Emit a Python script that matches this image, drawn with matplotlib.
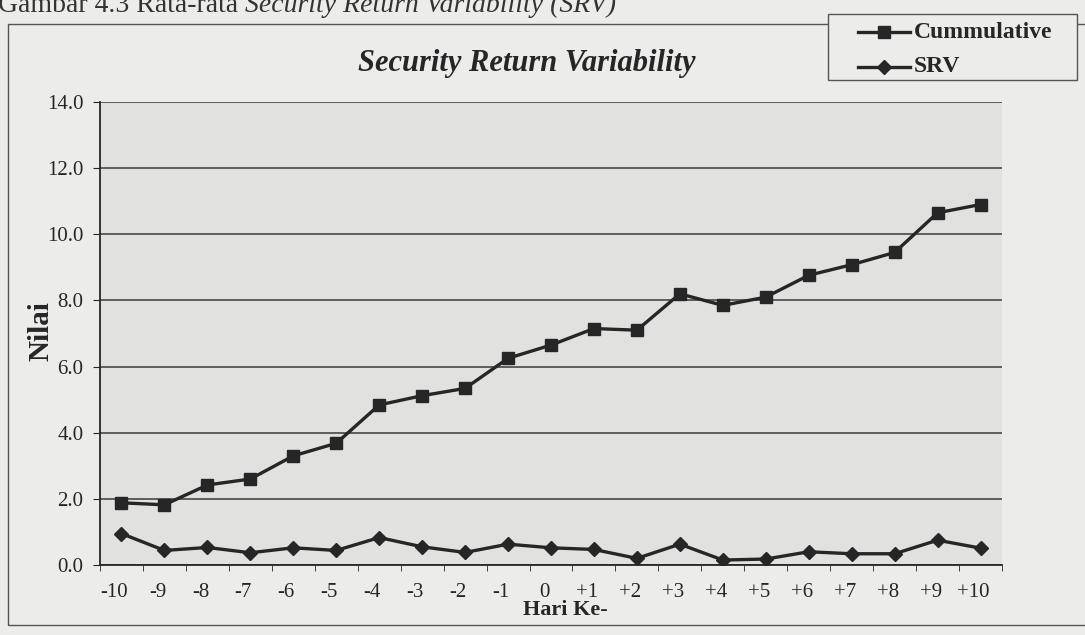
import matplotlib.pyplot as plt
from matplotlib.lines import Line2D
from matplotlib.patches import Rectangle
from matplotlib.transforms import ScaledTranslation

hari = ['-10', '-9', '-8', '-7', '-6', '-5', '-4', '-3', '-2', '-1', '0',
        '+1', '+2', '+3', '+4', '+5', '+6', '+7', '+8', '+9', '+10']
cumulative = [1.88, 1.82, 2.42, 2.60, 3.30, 3.68, 4.84, 5.12, 5.34, 6.25, 6.65,
              7.15, 7.10, 8.20, 7.85, 8.10, 8.76, 9.08, 9.45, 10.65, 10.90]
srv = [0.95, 0.44, 0.53, 0.37, 0.52, 0.44, 0.83, 0.55, 0.38, 0.63, 0.52,
       0.47, 0.20, 0.63, 0.15, 0.18, 0.40, 0.34, 0.34, 0.75, 0.51]
yticks = [0, 2, 4, 6, 8, 10, 12, 14]
series_names = ['Cummulative', 'SRV']

plt.rcParams['font.family'] = ['Liberation Serif', 'DejaVu Serif']
ink = '#262626'
bg = '#ececea'

fig = plt.figure(figsize=(10.85, 6.35), dpi=100, facecolor=bg)
W, H = 1085, 635

def fx(px):
    return px / W

def fy(py):
    return 1 - py / H

# outer chart frame of the scanned page
fig.add_artist(Rectangle((fx(8), fy(625)), 1.2, (625 - 24) / H,
                         transform=fig.transFigure, fill=False,
                         edgecolor='#555555', lw=1.0))

ax = fig.add_axes([fx(100), fy(565), fx(902), (565 - 102) / H])
ax.set_facecolor('#e1e1df')

x = list(range(len(hari)))
ax.plot(x, cumulative, color=ink, lw=2.4, marker='s', ms=9, mfc=ink, mec=ink,
        zorder=3)
ax.plot(x, srv, color=ink, lw=2.4, marker='D', ms=7.5, mfc=ink, mec=ink,
        zorder=3)

ax.set_xlim(-0.5, len(hari) - 0.5)
ax.set_ylim(0, 14)
ax.set_yticks(yticks)
ax.set_yticklabels([f'{v:.1f}' for v in yticks])
ax.yaxis.grid(True, color='#3a3a3a', lw=1.1)
ax.set_axisbelow(True)

ax.set_xticks(x)
ax.set_xticklabels(hari)
ax.set_xticks([i - 0.5 for i in range(len(hari) + 1)], minor=True)
ax.tick_params(axis='x', which='major', length=0, pad=13, labelsize=15,
               labelcolor=ink)
ax.tick_params(axis='x', which='minor', length=4, direction='out', color=ink)
ax.tick_params(axis='y', length=5, direction='out', pad=7, labelsize=15,
               labelcolor=ink, color=ink)
shift = ScaledTranslation(-7 / 100, 0, fig.dpi_scale_trans)
for lab in ax.get_xticklabels():
    lab.set_transform(lab.get_transform() + shift)

for side in ['top', 'right']:
    ax.spines[side].set_visible(False)
for side in ['left', 'bottom']:
    ax.spines[side].set_color(ink)
    ax.spines[side].set_linewidth(1.3)

fig.text(fx(565), fy(610), 'Hari Ke-', ha='center', va='center', fontsize=16,
         fontweight='bold', color=ink)
fig.text(fx(41), fy(331), 'Nilai', rotation=90, ha='center', va='center',
         fontsize=21, fontweight='bold', color=ink)
fig.text(fx(527), fy(63), 'Security Return Variability', ha='center',
         va='center', fontsize=22, fontweight='bold', style='italic', color=ink)

# caption, cut off at the top of the scan
t1 = fig.text(fx(-2), fy(12), 'Gambar 4.3 Rata-rata ', ha='left',
              va='baseline', fontsize=20, color='#333333')
fig.add_artist(plt.Annotation('Security Return Variability (SRV)',
                              xy=(1, fy(12)), xycoords=(t1, 'figure fraction'),
                              ha='left', va='baseline', fontsize=20,
                              style='italic', color='#333333'))

# legend box drawn like the Excel one
fig.add_artist(Rectangle((fx(828), fy(80)), fx(1077 - 828), (80 - 14) / H,
                         transform=fig.transFigure, facecolor=bg,
                         edgecolor='#555555', lw=1.0))
for name, mk, ms, row in zip(series_names, ['s', 'D'], [9, 7.5], [32, 67]):
    fig.add_artist(Line2D([fx(858), fx(910)], [fy(row), fy(row)],
                          transform=fig.transFigure, color=ink, lw=2.4))
    fig.add_artist(Line2D([fx(884)], [fy(row)], transform=fig.transFigure,
                          color=ink, marker=mk, ms=ms))
    fig.text(fx(914), fy(row), name, ha='left', va='center', fontsize=17,
             fontweight='bold', color=ink)

fig.savefig('out.png', dpi=100, facecolor=fig.get_facecolor())
